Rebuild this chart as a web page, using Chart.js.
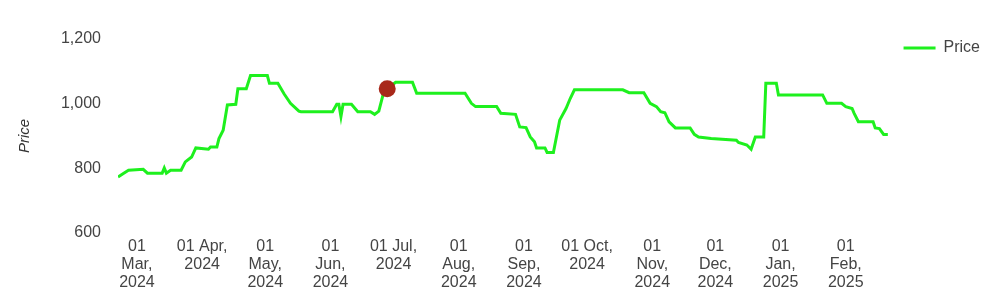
<!DOCTYPE html>
<html>
<head>
<meta charset="utf-8">
<script src="https://cdn.jsdelivr.net/npm/chart.js@4"></script>
<style>
  html, body { margin: 0; padding: 0; background: #fff; }
  #wrap { width: 984px; height: 287px; }
</style>
</head>
<body>
<div id="wrap"><canvas id="priceChart"></canvas></div>
<script>
// --- data ---
const dates = [
  '2024-02-21', '2024-02-23', '2024-02-26', '2024-03-04', '2024-03-06', '2024-03-13', '2024-03-14', '2024-03-15',
  '2024-03-17', '2024-03-22', '2024-03-24', '2024-03-27', '2024-03-29', '2024-04-04', '2024-04-05', '2024-04-08',
  '2024-04-09', '2024-04-11', '2024-04-13', '2024-04-17', '2024-04-18', '2024-04-22', '2024-04-24', '2024-05-02',
  '2024-05-03', '2024-05-07', '2024-05-10', '2024-05-13', '2024-05-17', '2024-05-18', '2024-06-02', '2024-06-04',
  '2024-06-05', '2024-06-06', '2024-06-07', '2024-06-11', '2024-06-14', '2024-06-20', '2024-06-22', '2024-06-24',
  '2024-06-26', '2024-06-28', '2024-07-02', '2024-07-10', '2024-07-12', '2024-08-04', '2024-08-07', '2024-08-09',
  '2024-08-19', '2024-08-21', '2024-08-28', '2024-08-30', '2024-09-02', '2024-09-04', '2024-09-06', '2024-09-07',
  '2024-09-11', '2024-09-12', '2024-09-15', '2024-09-18', '2024-09-21', '2024-09-23', '2024-09-25', '2024-10-18',
  '2024-10-21', '2024-10-28', '2024-10-31', '2024-11-03', '2024-11-05', '2024-11-07', '2024-11-09', '2024-11-12',
  '2024-11-19', '2024-11-21', '2024-11-23', '2024-11-29', '2024-12-11', '2024-12-12', '2024-12-16', '2024-12-18',
  '2024-12-20', '2024-12-24', '2024-12-25', '2024-12-30', '2024-12-31', '2025-01-21', '2025-01-23', '2025-01-30',
  '2025-02-01', '2025-02-04', '2025-02-05', '2025-02-07', '2025-02-14', '2025-02-15', '2025-02-17', '2025-02-19',
  '2025-02-21'
];
const prices = [
  773, 782, 794, 797, 785, 785, 801, 785,
  794, 794, 820, 835, 863, 859, 866, 866,
  892, 918, 996, 998, 1046, 1046, 1087, 1087,
  1063, 1063, 1030, 1001, 977, 975, 975, 998,
  998, 960, 998, 998, 975, 975, 967, 977,
  1027, 1046, 1066, 1066, 1032, 1032, 1001, 991,
  991, 970, 967, 928, 926, 897, 882, 863,
  863, 849, 849, 949, 985, 1016, 1043, 1043,
  1034, 1034, 1001, 991, 975, 972, 944, 925,
  925, 905, 897, 892, 887, 880, 872, 859,
  897, 897, 1063, 1063, 1027, 1027, 1001, 1001,
  991, 985, 970, 944, 944, 925, 923, 905,
  905
];

// highlighted point
const markerDate = '2024-06-28';
const markerPrice = 1046;

// x axis range and tick positions (month starts) with their wrapped labels
const axisStart = '2024-02-21';
const axisEnd = '2025-02-28';
const tickDates = [
  '2024-03-01', '2024-04-01', '2024-05-01', '2024-06-01', '2024-07-01', '2024-08-01',
  '2024-09-01', '2024-10-01', '2024-11-01', '2024-12-01', '2025-01-01', '2025-02-01'
];
const tickLabels = [
  ['01', 'Mar,', '2024'], ['01 Apr,', '2024'], ['01', 'May,', '2024'], ['01', 'Jun,', '2024'],
  ['01 Jul,', '2024'], ['01', 'Aug,', '2024'], ['01', 'Sep,', '2024'], ['01 Oct,', '2024'],
  ['01', 'Nov,', '2024'], ['01', 'Dec,', '2024'], ['01', 'Jan,', '2025'], ['01', 'Feb,', '2025']
];
const yTicks = [600, 800, 1000, 1200];

// days since epoch, so a linear scale can act as a time axis
const toDay = s => {
  const [y, m, d] = s.split('-').map(Number);
  return Date.UTC(y, m - 1, d) / 86400000;
};
const tickDays = tickDates.map(toDay);

document.addEventListener('DOMContentLoaded', () => {
  Chart.defaults.font.family = "'Liberation Sans', Arial, sans-serif";
  Chart.defaults.font.size = 16;
  Chart.defaults.color = '#555';

  const lineGreen = '#1ef01e';

  new Chart(document.getElementById('priceChart').getContext('2d'), {
    type: 'line',
    data: {
      datasets: [{
        label: 'Price',
        data: dates.map((d, i) => ({ x: toDay(d), y: prices[i] })),
        borderColor: lineGreen,
        backgroundColor: lineGreen,
        borderWidth: 3,
        pointRadius: 0,
        tension: 0,
        order: 1
      }, {
        label: 'marker',
        data: [{ x: toDay(markerDate), y: markerPrice }],
        showLine: false,
        pointRadius: 8.5,
        pointBackgroundColor: '#a8281a',
        pointBorderColor: '#a8281a',
        borderWidth: 0,
        order: 0
      }]
    },
    options: {
      responsive: true,
      maintainAspectRatio: false,
      animation: false,
      layout: { padding: { top: 39, right: -6, left: 0, bottom: 0 } },
      plugins: {
        tooltip: { enabled: false },
        legend: {
          position: 'right',
          align: 'start',
          labels: {
            boxWidth: 32,
            boxHeight: 0,
            padding: 1,
            color: '#444',
            font: { size: 16 },
            filter: item => item.text === 'Price'
          }
        }
      },
      scales: {
        x: {
          type: 'linear',
          min: toDay(axisStart),
          max: toDay(axisEnd),
          grid: { display: false, drawTicks: false },
          border: { display: false },
          afterBuildTicks: axis => { axis.ticks = tickDays.map(v => ({ value: v })); },
          afterFit: axis => { axis.height = 54; },
          ticks: {
            autoSkip: false,
            maxRotation: 0,
            padding: 5,
            color: '#444',
            font: { size: 16, lineHeight: '18px' },
            callback: value => tickLabels[tickDays.indexOf(value)]
          }
        },
        y: {
          min: 600,
          max: 1200,
          grid: { display: false, drawTicks: false },
          border: { display: false },
          afterBuildTicks: axis => { axis.ticks = yTicks.map(v => ({ value: v })); },
          afterFit: axis => { axis.width = 118; },
          ticks: {
            padding: 17,
            color: '#444',
            font: { size: 16 },
            callback: v => v.toLocaleString('en-US')
          },
          title: {
            display: true,
            text: 'Price',
            color: '#333',
            font: { size: 15, style: 'italic' },
            padding: { top: 16, bottom: 0 }
          }
        }
      }
    }
  });
});
</script>
</body>
</html>
